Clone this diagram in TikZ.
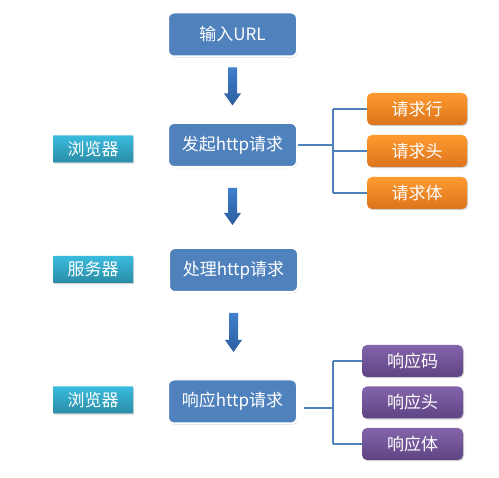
\documentclass[tikz,border=0pt]{standalone}
\usepackage{fontspec}
\setmainfont{Noto Sans CJK SC}
\usetikzlibrary{shadows,calc}
\definecolor{mainblue}{HTML}{4F81BD}
\definecolor{linkblue}{HTML}{4F81BD}
\definecolor{arrtop}{HTML}{3F7FCC}
\definecolor{arrbot}{HTML}{2C5E9E}
\definecolor{ortop}{HTML}{FF9A30}
\definecolor{orbot}{HTML}{DC741C}
\definecolor{putop}{HTML}{8464AA}
\definecolor{pubot}{HTML}{5E4484}
\definecolor{tltop}{HTML}{3ABBDD}
\definecolor{tlbot}{HTML}{2A8CA6}
\tikzset{
  base/.style={text=white, font=\fontsize{17}{20}\selectfont, inner sep=0pt},
  mainbox/.style={base, fill=mainblue, draw=white, line width=2pt, rounded corners=6pt,
    minimum width=129pt, minimum height=44pt,
    drop shadow={shadow xshift=0.8pt, shadow yshift=-1.2pt, fill=black!40, opacity=0.5}},
  orbox/.style={base, top color=ortop, bottom color=orbot, draw=none, rounded corners=5pt,
    minimum width=100pt, minimum height=32pt,
    drop shadow={shadow xshift=1pt, shadow yshift=-1.2pt, fill=black!40, opacity=0.45}},
  pubox/.style={base, top color=putop, bottom color=pubot, draw=none, rounded corners=5pt,
    minimum width=101pt, minimum height=32pt,
    drop shadow={shadow xshift=1pt, shadow yshift=-1.2pt, fill=black!40, opacity=0.45}},
  tlbox/.style={base, top color=tltop, bottom color=tlbot, draw=none, rounded corners=0.5pt,
    minimum width=80pt, minimum height=27pt,
    drop shadow={shadow xshift=1pt, shadow yshift=-1.2pt, fill=black!40, opacity=0.45}},
  link/.style={draw=linkblue, line width=2.8pt},
  arrshade/.style={top color=arrtop, bottom color=arrbot, draw=none},
}
\begin{document}
\begin{tikzpicture}[x=1pt,y=-1pt]
\useasboundingbox (0,0) rectangle (499,478);
% main boxes
\node[mainbox] (b1) at (232.5,34.5) {输入URL};
\node[mainbox] (b2) at (232.5,145) {发起http请求};
\node[mainbox] (b3) at (233.5,270) {处理http请求};
\node[mainbox] (b4) at (232.5,401.5) {响应http请求};
% side labels
\node[tlbox] (l1) at (93,149) {浏览器};
\node[tlbox] (l2) at (93,269.5) {服务器};
\node[tlbox] (l3) at (93,400) {浏览器};
% orange boxes
\node[orbox] (r1) at (417,109) {请求行};
\node[orbox] (r2) at (417,151) {请求头};
\node[orbox] (r3) at (417,193) {请求体};
% purple boxes
\node[pubox] (p1) at (412.5,361) {响应码};
\node[pubox] (p2) at (412.5,402.5) {响应头};
\node[pubox] (p3) at (412.5,444) {响应体};
% block arrows between main boxes
\path[arrshade] ($(b1.south)+(-4.5,10)$) -- ++(9,0) -- ++(0,26) -- ++(4,0) -- ++(-8.5,12) -- ++(-8.5,-12) -- ++(4,0) -- cycle;
\path[arrshade] ($(b2.south)+(-4.5,20)$) -- ++(9,0) -- ++(0,25) -- ++(4,0) -- ++(-8.5,12) -- ++(-8.5,-12) -- ++(4,0) -- cycle;
\path[arrshade] ($(b3.south)+(-4.5,20)$) -- ++(9,0) -- ++(0,27) -- ++(4,0) -- ++(-8.5,12) -- ++(-8.5,-12) -- ++(4,0) -- cycle;
% brackets
\coordinate (j1) at (333,145);
\coordinate (j2) at (333,408);
\draw[link] (b2.east) -- (b2.east -| j1);
\draw[link] (j1 |- r1.west) -- (r1.west);
\draw[link] (j1 |- r2.west) -- (r2.west);
\draw[link] (j1 |- r3.west) -- (r3.west);
\draw[link] (j1 |- r1.west) -- (j1 |- r3.west);
\draw[link] ($(b4.east)+(6,6.5)$) -- ($(b4.east -| j2)+(0,6.5)$);
\draw[link] (j2 |- p1.west) -- (p1.west);
\draw[link] (j2 |- p3.west) -- (p3.west);
\draw[link] (j2 |- p1.west) -- (j2 |- p3.west);
\end{tikzpicture}
\end{document}
